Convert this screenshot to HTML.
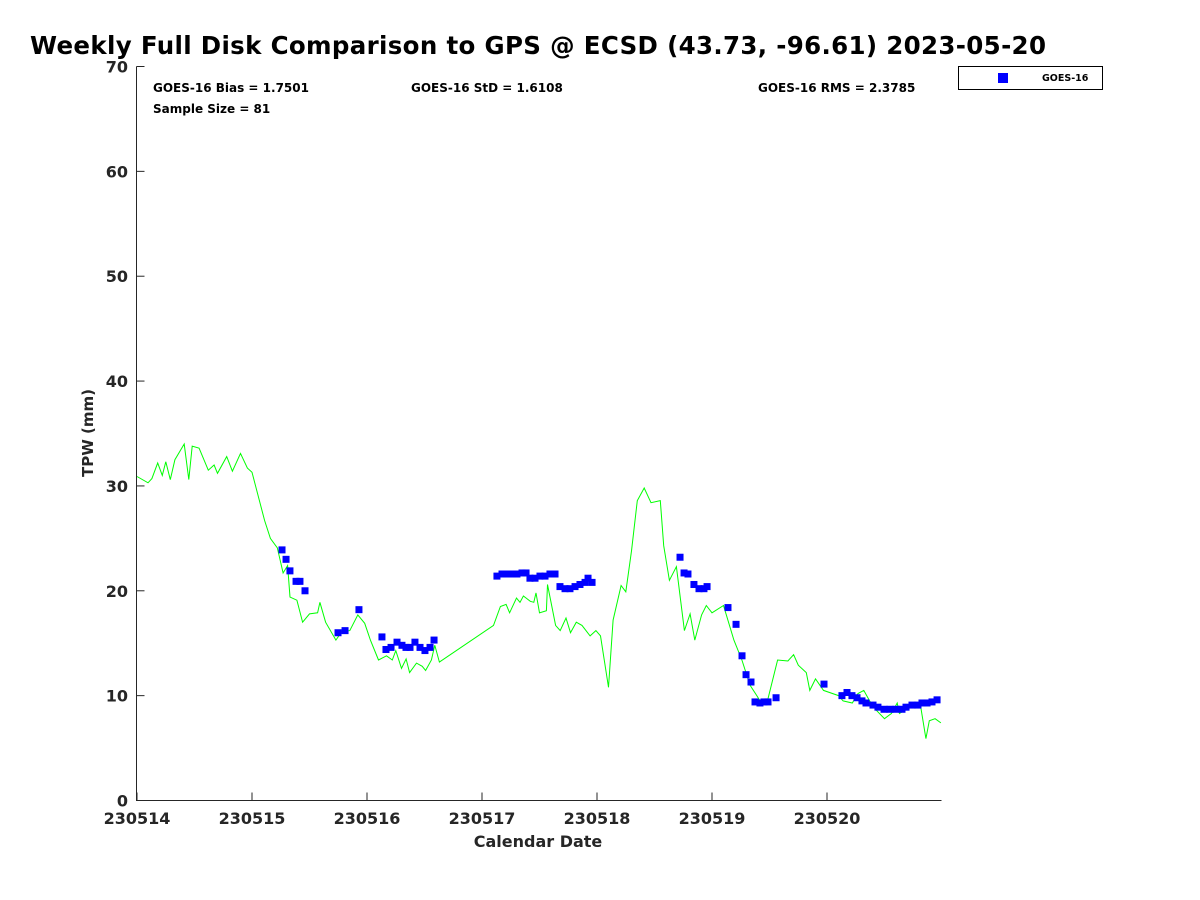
<!DOCTYPE html>
<html><head><meta charset="utf-8"><style>
body{margin:0;background:#fff;}
svg{display:block;font-family:"DejaVu Sans","Liberation Sans",sans-serif;}
</style></head><body>
<svg id="chart" width="1200" height="900">
<rect width="1200" height="900" fill="#fff"/>
<text x="30" y="54" font-size="24.5" font-weight="bold" textLength="1016">Weekly Full Disk Comparison to GPS @ ECSD (43.73, -96.61) 2023-05-20</text>
<g id="plot"></g>
<text x="153" y="92" font-size="12" font-weight="bold">GOES-16 Bias = 1.7501</text>
<text x="411" y="92" font-size="12" font-weight="bold">GOES-16 StD = 1.6108</text>
<text x="758" y="92" font-size="12" font-weight="bold">GOES-16 RMS = 2.3785</text>
<text x="153" y="113" font-size="12" font-weight="bold">Sample Size = 81</text>
<g>
<rect x="958.5" y="66.5" width="144" height="23" fill="#fff" stroke="#000" stroke-width="1"/>
<rect x="998" y="73" width="10" height="10" fill="#0000ff"/>
<text x="1042" y="81" font-size="9.5" font-weight="bold">GOES-16</text>
</g>
<text x="538" y="847" font-size="16" font-weight="bold" text-anchor="middle" fill="#262626">Calendar Date</text>
<text transform="translate(93,433) rotate(-90)" font-size="15" font-weight="bold" text-anchor="middle" fill="#262626">TPW (mm)</text>
</svg>
<script>
const xTickLabels=["230514","230515","230516","230517","230518","230519","230520"];
const yTicks=[0,10,20,30,40,50,60,70];
const gpsDays=[0,0.096,0.13,0.18,0.22,0.25,0.29,0.33,0.41,0.45,0.48,0.54,0.62,0.67,0.70,0.78,0.83,0.90,0.96,1.0,1.11,1.16,1.22,1.27,1.31,1.33,1.39,1.44,1.50,1.57,1.59,1.64,1.73,1.78,1.85,1.92,1.98,2.03,2.10,2.17,2.22,2.25,2.30,2.34,2.37,2.43,2.48,2.51,2.56,2.59,2.63,3.10,3.16,3.21,3.24,3.30,3.33,3.36,3.42,3.45,3.47,3.50,3.56,3.57,3.64,3.68,3.73,3.77,3.82,3.87,3.94,3.99,4.03,4.10,4.14,4.21,4.25,4.30,4.35,4.41,4.47,4.55,4.58,4.63,4.69,4.76,4.81,4.85,4.91,4.95,5.0,5.10,5.19,5.26,5.33,5.39,5.44,5.48,5.57,5.66,5.71,5.75,5.82,5.85,5.90,5.97,6.10,6.14,6.22,6.27,6.32,6.37,6.43,6.50,6.56,6.61,6.63,6.69,6.74,6.81,6.86,6.89,6.94,6.99];
const gpsValues=[30.9,30.3,30.7,32.2,31.0,32.3,30.6,32.5,34.0,30.6,33.8,33.6,31.5,32.0,31.2,32.8,31.4,33.1,31.7,31.3,26.7,25.0,24.1,21.7,22.4,19.4,19.1,17.0,17.8,17.9,18.9,17.0,15.3,16.1,16.2,17.7,16.9,15.3,13.4,13.8,13.4,14.3,12.6,13.5,12.2,13.1,12.8,12.4,13.4,14.8,13.2,16.7,18.5,18.7,17.9,19.3,18.9,19.5,19.0,18.9,19.8,17.9,18.1,20.6,16.7,16.2,17.4,16.0,17.0,16.7,15.7,16.2,15.7,10.8,17.2,20.5,19.9,23.8,28.6,29.8,28.4,28.6,24.3,21.0,22.3,16.2,17.8,15.3,17.7,18.6,17.9,18.6,15.3,13.4,11.0,10.0,9.1,9.4,13.4,13.3,13.9,12.9,12.2,10.5,11.6,10.5,10.0,9.5,9.3,10.2,10.5,9.5,8.6,7.8,8.3,9.3,8.3,8.7,9.3,9.3,5.9,7.6,7.8,7.4];
const goesDays=[1.261,1.296,1.330,1.383,1.417,1.461,1.748,1.809,1.930,2.130,2.165,2.209,2.261,2.304,2.339,2.374,2.417,2.461,2.504,2.548,2.583,3.130,3.174,3.217,3.261,3.304,3.348,3.383,3.417,3.461,3.504,3.548,3.591,3.635,3.678,3.722,3.765,3.809,3.852,3.896,3.922,3.957,4.722,4.757,4.791,4.843,4.887,4.930,4.957,5.139,5.209,5.261,5.296,5.339,5.374,5.417,5.452,5.487,5.557,5.974,6.130,6.174,6.217,6.261,6.304,6.339,6.400,6.443,6.496,6.548,6.600,6.652,6.687,6.739,6.791,6.826,6.870,6.913,6.957];
const goesValues=[23.9,23.0,21.9,20.9,20.9,20.0,16.0,16.2,18.2,15.6,14.4,14.6,15.1,14.8,14.6,14.6,15.1,14.6,14.3,14.6,15.3,21.4,21.6,21.6,21.6,21.6,21.7,21.7,21.2,21.2,21.4,21.4,21.6,21.6,20.4,20.2,20.2,20.4,20.6,20.8,21.2,20.8,23.2,21.7,21.6,20.6,20.2,20.2,20.4,18.4,16.8,13.8,12.0,11.3,9.4,9.3,9.4,9.4,9.8,11.1,10.0,10.3,10.0,9.8,9.5,9.3,9.1,8.9,8.7,8.7,8.7,8.7,8.9,9.1,9.1,9.3,9.3,9.4,9.6];

const NS="http://www.w3.org/2000/svg";
const g=document.getElementById('plot');
const L=136.5,R=941.5,T=66.5,B=800.5;
const xs=d=>137+d*115;
const ys=v=>B-v*(B-T)/70;
function mk(tag,attrs){const e=document.createElementNS(NS,tag);for(const k in attrs)e.setAttribute(k,attrs[k]);g.appendChild(e);return e;}

const pts=gpsDays.map((d,i)=>xs(d).toFixed(1)+','+ys(gpsValues[i]).toFixed(1)).join(' ');
const line=mk('polyline',{points:pts,fill:'none',stroke:'#00ff00','stroke-width':1});



goesDays.forEach((d,i)=>{
  const r=mk('rect',{x:xs(d)-3.5,y:ys(goesValues[i])-3.5,width:7,height:7,fill:'#0000ff'});
  
  
});

const ax=mk('path',{d:`M${L},${T}V${B}H${R}`,fill:'none',stroke:'#262626','stroke-width':1});



yTicks.forEach(v=>{
  const y=ys(v);
  const t=mk('line',{x1:L,x2:L+8,y1:y,y2:y,stroke:'#262626'});
  
  
  const lb=mk('text',{x:128,y:y+6,'font-size':16,'font-weight':'bold','text-anchor':'end',fill:'#262626'});
  lb.textContent=v;
  
  
});
xTickLabels.forEach((s,i)=>{
  const x=xs(i);
  const t=mk('line',{x1:x,x2:x,y1:B,y2:B-8,stroke:'#262626'});
  
  
  const lb=mk('text',{x:x,y:824,'font-size':16,'font-weight':'bold','text-anchor':'middle',fill:'#262626'});
  lb.textContent=s;
  
  
});
</script>
</body></html>
